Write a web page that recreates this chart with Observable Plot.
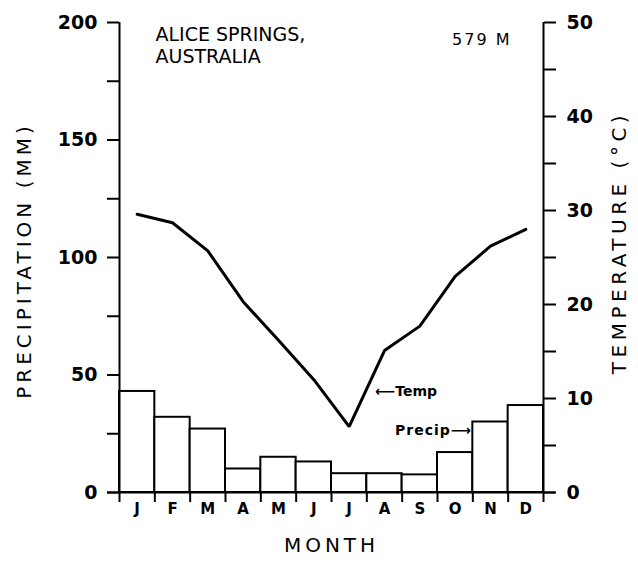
<!DOCTYPE html>
<html><head><meta charset="utf-8">
<script src="https://cdn.jsdelivr.net/npm/d3@7"></script>
<script src="https://cdn.jsdelivr.net/npm/@observablehq/plot@0.6"></script>
<style>body{margin:0;background:#fff}</style>
</head><body><div id="chart"></div>
<script>
const months = ["J","F","M","A","M","J","J","A","S","O","N","D"];
const precip = [43, 32, 27, 10, 15, 13, 8, 8, 7.5, 17, 30, 37];
const temp = [29.6, 28.7, 25.7, 20.3, 16.2, 12.0, 7.0, 15.1, 17.7, 23.0, 26.2, 28.0];
const precipTicks = [0, 25, 50, 75, 100, 125, 150, 175, 200];
const precipLabels = [0, 50, 100, 150, 200];
const tempTicks = [0, 5, 10, 15, 20, 25, 30, 35, 40, 45, 50];
const tempLabels = [0, 10, 20, 30, 40, 50];
const titleLines = ["ALICE SPRINGS,", "AUSTRALIA"];
const elevation = "579 M";
const yLabel = "PRECIPITATION (MM)";
const y2Label = "TEMPERATURE (°C)";
const xLabel = "MONTH";

const pMax = precipTicks[precipTicks.length - 1];
const tMax = tempTicks[tempTicks.length - 1];
const k = pMax / tMax;
const data = months.map((m, i) => ({i, m, p: precip[i], t: temp[i]}));
const bounds = d3.range(months.length + 1);
const centers = months.map((m, i) => i + 0.5);
const FONT = "DejaVu Sans";

const chart = Plot.plot({
  width: 638, height: 564,
  marginLeft: 119, marginRight: 95, marginTop: 22, marginBottom: 72,
  x: {type: "linear", domain: [0, months.length], axis: null},
  y: {domain: [0, pMax], axis: null},
  style: {fontFamily: FONT, color: "#000", background: "#fff"},
  marks: [
    Plot.rectY(data, {x1: "i", x2: d => d.i + 1, y: "p", fill: "white", stroke: "black", strokeWidth: 2}),
    Plot.lineY(data, {x: d => d.i + 0.5, y: d => d.t * k, stroke: "black", strokeWidth: 3, strokeLinejoin: "miter"}),
    Plot.ruleX([0, months.length], {y1: 0, y2: pMax, stroke: "black", strokeWidth: 2}),
    Plot.ruleY([0], {insetLeft: -12, insetRight: -12, stroke: "black", strokeWidth: 2}),
    Plot.axisY({ticks: precipTicks, anchor: "left", tickSize: 12, tickPadding: 10, strokeWidth: 2,
      tickFormat: d => precipLabels.includes(d) ? String(d) : "", fontSize: 19, fontWeight: "bold", label: null}),
    Plot.axisY({ticks: tempTicks.map(t => t * k), anchor: "right", tickSize: 12, tickPadding: 11, strokeWidth: 2,
      tickFormat: d => tempLabels.includes(d / k) ? String(d / k) : "", fontSize: 19, fontWeight: "bold", label: null}),
    Plot.axisX({ticks: bounds, anchor: "bottom", tickSize: 10, tickFormat: () => "", strokeWidth: 2, label: null}),
    Plot.axisX({ticks: centers, anchor: "bottom", tickSize: 0, tickPadding: 11,
      tickFormat: d => months[Math.floor(d)], fontSize: 15, fontWeight: "bold", label: null}),
    Plot.text([titleLines[0]], {frameAnchor: "top-left", textAnchor: "start", lineAnchor: "top",
      dx: 36, dy: 5, fontSize: 19, fill: "black"}),
    Plot.text([titleLines[1]], {frameAnchor: "top-left", textAnchor: "start", lineAnchor: "top",
      dx: 36, dy: 27, fontSize: 19, fill: "black"}),
    Plot.text([elevation], {frameAnchor: "top-right", textAnchor: "end", lineAnchor: "top",
      dx: -32, dy: 11, fontSize: 16, fill: "black"}),
    Plot.text([yLabel], {frameAnchor: "left", rotate: -90, dx: -95, dy: 3, fontSize: 20, fill: "black", textAnchor: "middle"}),
    Plot.text([y2Label], {frameAnchor: "right", rotate: -90, dx: 76, dy: -15, fontSize: 20, fill: "black", textAnchor: "middle"}),
    Plot.text([xLabel], {frameAnchor: "bottom", lineAnchor: "top", dy: 45, fontSize: 20, fill: "black", textAnchor: "middle"}),
    Plot.text(data.filter((d, i) => i === 6), {x: d => d.i + 0.5, y: d => d.t * k, text: () => "⟵Temp",
      textAnchor: "start", dx: 26, dy: -35, fontSize: 14, fontWeight: "bold", fill: "black"}),
    Plot.text(data.filter((d, i) => i === 10), {x: "i", y: "p", text: () => "Precip⟶",
      textAnchor: "end", dx: -1, dy: 9, fontSize: 14, fontWeight: "bold", fill: "black"})
  ]
});
chart.querySelectorAll("text").forEach(t => {
  const s = t.textContent;
  if (s === yLabel) t.setAttribute("letter-spacing", "4");
  else if (s === y2Label) t.setAttribute("letter-spacing", "4.5");
  else if (s === xLabel) t.setAttribute("letter-spacing", "4");
  else if (s === elevation) t.setAttribute("letter-spacing", "2");
  else if (/Precip/.test(s)) t.setAttribute("letter-spacing", "1");
});
document.getElementById("chart").append(chart);
</script>
</body></html>
